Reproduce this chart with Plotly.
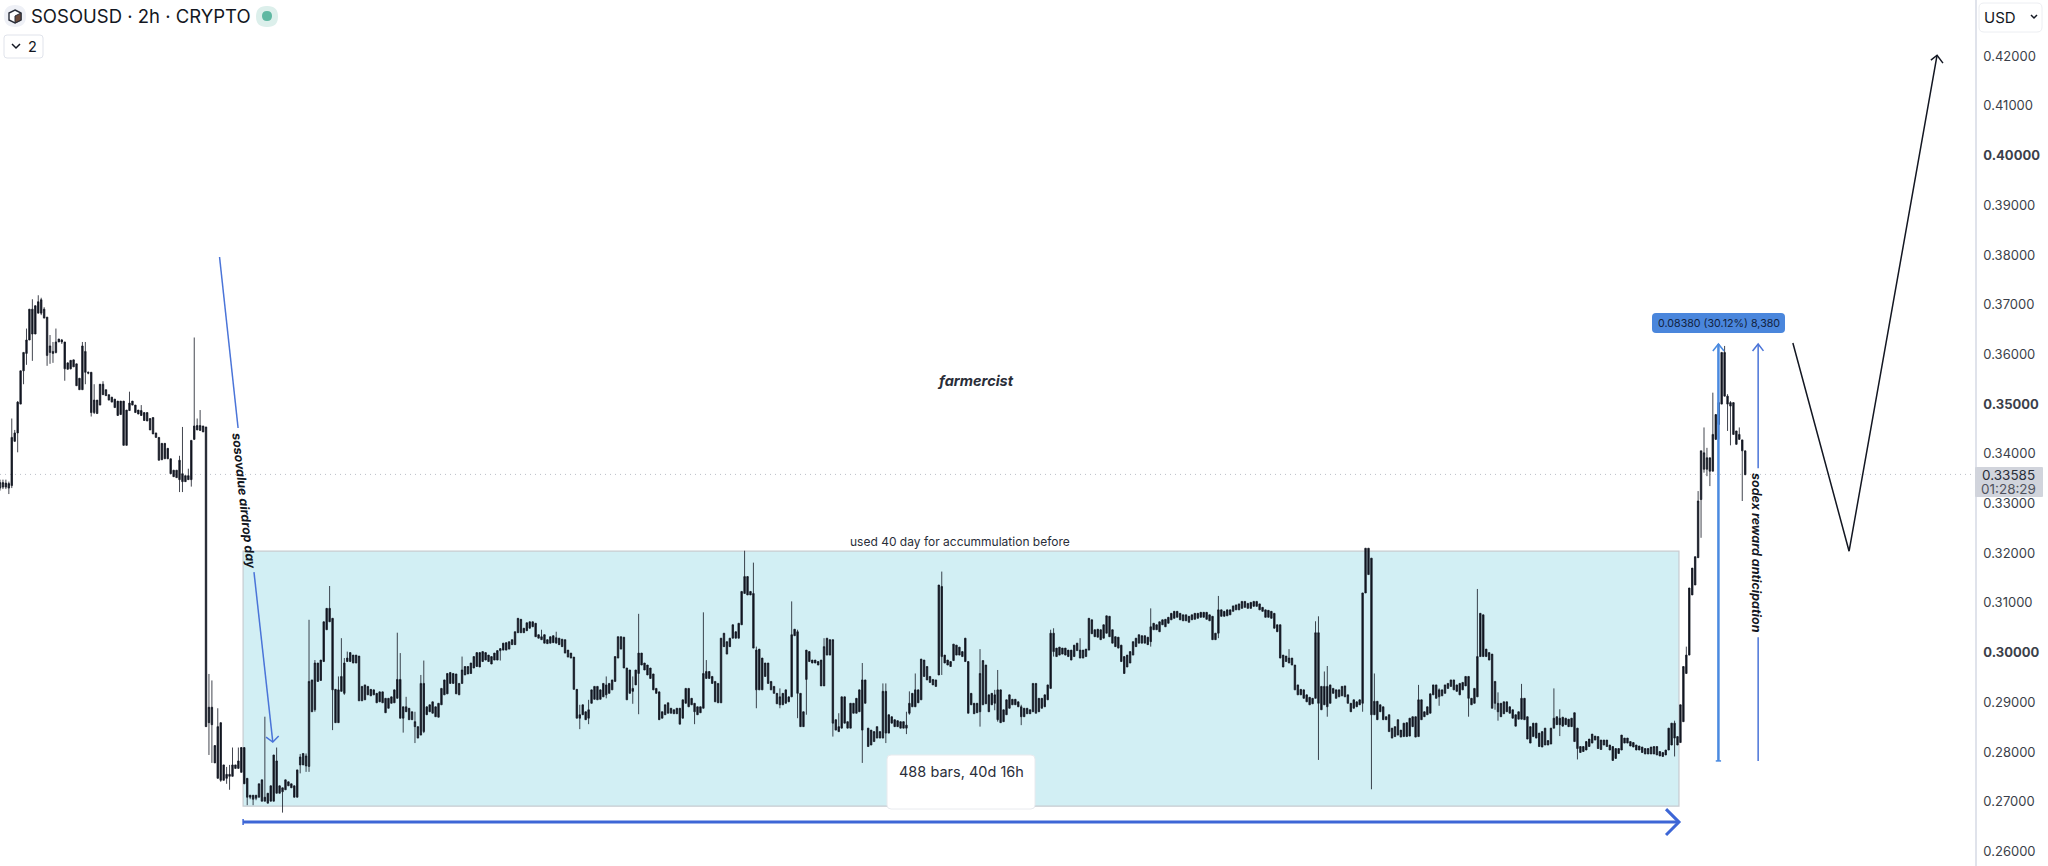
import plotly.graph_objects as go

# Candle data in units of 0.0001 USD: wick high, body top, body bottom, wick low. Blocks of 20 bars.
h0=[3348,3348,3348,3344,3471,3448,3506,3567,3604,3652,3691,3711,3698,3719,3714,3695,3675,3639,3625,3652]
t0=[3342,3342,3341,3340,3433,3442,3504,3567,3604,3629,3691,3691,3698,3706,3710,3691,3675,3617,3606,3625]
b0=[3331,3333,3333,3331,3336,3425,3442,3500,3567,3602,3629,3641,3641,3683,3683,3673,3598,3604,3602,3604]
l0=[3326,3329,3329,3319,3331,3425,3403,3500,3540,3579,3629,3587,3641,3683,3679,3673,3577,3581,3583,3602]

h1=[3631,3631,3625,3583,3588,3589,3581,3552,3625,3625,3565,3564,3540,3508,3540,3546,3529,3519,3514,3510]
t1=[3631,3629,3625,3583,3588,3589,3581,3552,3617,3606,3564,3564,3508,3508,3540,3540,3529,3519,3514,3510]
b1=[3625,3625,3571,3570,3571,3575,3537,3529,3529,3564,3562,3483,3483,3481,3498,3519,3517,3508,3504,3493]
l1=[3625,3621,3547,3570,3570,3575,3537,3529,3529,3540,3560,3475,3480,3481,3498,3519,3517,3508,3504,3493]

h2=[3506,3506,3506,3488,3525,3506,3498,3488,3498,3483,3483,3471,3473,3442,3433,3421,3421,3411,3390,3367]
t2=[3506,3506,3506,3488,3502,3506,3498,3488,3487,3483,3483,3471,3473,3442,3433,3421,3421,3411,3390,3367]
b2=[3477,3479,3417,3417,3487,3498,3483,3480,3477,3467,3466,3448,3440,3433,3387,3388,3390,3390,3360,3354]
l2=[3477,3479,3417,3417,3487,3498,3483,3480,3477,3467,3466,3448,3440,3433,3387,3388,3390,3390,3360,3354]

h3=[3367,3396,3454,3356,3370,3427,3634,3471,3488,3456,3454,2957,2944,2813,2888,2859,2774,2770,2774,2809]
t3=[3367,3387,3360,3356,3356,3427,3456,3457,3457,3456,3454,2890,2890,2813,2851,2859,2774,2755,2755,2774]
b3=[3352,3348,3344,3344,3348,3348,3429,3448,3447,3444,2851,2859,2855,2778,2747,2743,2743,2747,2751,2751]
l3=[3352,3323,3323,3344,3348,3334,3429,3448,3447,3444,2851,2794,2778,2778,2747,2740,2743,2736,2724,2751]

h4=[2774,2809,2809,2809,2747,2713,2713,2713,2736,2744,2871,2717,2732,2794,2809,2732,2728,2744,2740,2736]
t4=[2774,2782,2809,2809,2747,2713,2713,2713,2736,2744,2709,2717,2732,2794,2782,2732,2728,2744,2740,2736]
b4=[2767,2767,2759,2736,2709,2709,2705,2707,2709,2701,2701,2697,2701,2701,2717,2717,2720,2724,2732,2728]
l4=[2767,2767,2759,2736,2693,2705,2693,2703,2709,2701,2701,2697,2701,2701,2717,2717,2678,2724,2732,2728]

h5=[2732,2764,2796,2797,2797,3066,2945,2985,2979,2985,3062,3089,3134,3069,2926,2952,3029,2989,3002,3000]
t5=[2732,2764,2790,2797,2792,2942,2945,2979,2979,2985,3062,3089,3089,3069,2926,2925,2952,2979,2989,3000]
b5=[2709,2709,2774,2774,2772,2771,2881,2885,2942,2944,2982,3046,3062,2925,2859,2859,2922,2918,2982,2982]
l5=[2709,2709,2757,2774,2760,2760,2881,2881,2942,2944,2982,3046,3062,2844,2859,2859,2922,2915,2982,2982]

h6=[2995,2995,2993,2932,2935,2932,2926,2925,2918,2921,2921,2908,2908,2911,2925,3040,2999,2891,2911,2888]
t6=[2995,2995,2993,2932,2935,2932,2926,2925,2918,2921,2921,2908,2908,2911,2925,2946,2946,2891,2891,2888]
b6=[2979,2979,2903,2903,2905,2915,2913,2915,2899,2901,2899,2879,2888,2898,2899,2908,2868,2868,2881,2865]
l6=[2979,2979,2903,2903,2905,2915,2913,2915,2899,2901,2899,2879,2888,2898,2899,2908,2868,2839,2881,2865]

h7=[2881,2881,2851,2955,2984,2891,2895,2901,2891,2898,2928,2945,2958,2960,2958,2957,2938,2992,2972,2972]
t7=[2881,2861,2851,2938,2938,2891,2895,2901,2891,2898,2928,2945,2958,2960,2958,2957,2938,2965,2972,2972]
b7=[2865,2851,2828,2834,2841,2875,2881,2878,2871,2870,2895,2915,2917,2938,2938,2917,2915,2938,2955,2957]
l7=[2865,2818,2828,2834,2838,2875,2881,2878,2871,2870,2895,2915,2917,2938,2938,2917,2915,2938,2955,2957]

h8=[2979,2992,3000,3000,3002,3000,2995,2992,2999,3004,3008,3019,3020,3022,3026,3042,3069,3067,3049,3060]
t8=[2979,2992,3000,3000,3002,3000,2995,2992,2999,3004,3008,3019,3020,3022,3026,3042,3069,3067,3049,3060]
b8=[2958,2969,2972,2971,2982,2985,2982,2977,2985,2985,3004,3005,3005,3007,3016,3016,3040,3040,3040,3044]
l8=[2958,2969,2972,2971,2982,2985,2982,2977,2985,2985,2984,3005,3005,3007,3016,3016,3040,3040,3040,3044]

h9=[3062,3062,3059,3036,3046,3036,3026,3032,3034,3042,3029,3027,3026,3005,2999,2991,2926,2895,2895,2881]
t9=[3062,3062,3059,3036,3032,3036,3026,3032,3034,3030,3029,3027,3026,3005,2999,2991,2926,2875,2895,2881]
b9=[3049,3052,3032,3029,3026,3019,3018,3019,3020,3019,3016,3012,2999,2991,2989,2926,2868,2868,2875,2865]
l9=[3049,3052,3032,3029,3026,3019,3018,3019,3020,3019,3016,3012,2999,2991,2989,2926,2868,2846,2875,2865]

h10=[2905,2925,2932,2932,2925,2938,2952,2938,2945,2992,3032,3032,3031,2969,2965,2952,2965,3078,2999,2979]
t10=[2885,2925,2932,2932,2925,2938,2935,2938,2945,2992,3032,3032,3031,2969,2965,2928,2965,2999,2999,2979]
b10=[2868,2898,2906,2905,2906,2911,2915,2918,2925,2942,2989,3007,2969,2905,2918,2922,2935,2958,2975,2965]
l10=[2856,2898,2906,2905,2906,2911,2908,2918,2925,2942,2989,3007,2969,2905,2918,2897,2935,2876,2975,2965]

h11=[2975,2969,2957,2928,2921,2881,2895,2899,2888,2885,2888,2888,2905,2928,2928,2908,2898,2891,2891,3081]
t11=[2975,2969,2957,2928,2921,2881,2895,2899,2888,2885,2888,2888,2905,2928,2928,2908,2898,2891,2891,2958]
b11=[2955,2948,2925,2918,2865,2868,2875,2878,2878,2877,2877,2856,2868,2898,2891,2895,2881,2875,2879,2888]
l11=[2955,2948,2925,2918,2865,2868,2875,2878,2878,2877,2877,2856,2868,2898,2891,2895,2856,2875,2879,2888]

h12=[2985,2962,2952,2942,2938,3029,3039,3022,3029,3056,3042,3059,3123,3205,3153,3123,3181,3012,3007,2989]
t12=[2962,2962,2952,2942,2938,3029,3039,3022,3029,3056,3042,3059,3123,3153,3153,3123,3119,3005,3007,2989]
b12=[2948,2948,2938,2901,2899,2899,3012,2997,3012,3029,3029,3029,3056,3119,3116,3116,3009,2925,2925,2925]
l12=[2948,2948,2938,2901,2899,2899,3012,2997,3012,3029,3029,3029,3056,3119,3116,3116,3009,2888,2925,2925]

h13=[2979,2979,2942,2932,2918,2928,2918,2925,2911,3103,3047,3046,2918,2881,3005,3002,2985,2985,2982,2985]
t13=[2979,2979,2942,2932,2918,2911,2918,2925,2911,3036,3047,3042,2918,2881,3005,3002,2985,2985,2982,2985]
b13=[2952,2938,2925,2918,2897,2895,2895,2898,2901,2911,3034,2918,2851,2851,2946,2982,2979,2979,2975,2933]
l13=[2952,2938,2925,2918,2897,2888,2895,2898,2901,2911,3034,2868,2851,2851,2875,2982,2979,2979,2975,2933]

h14=[3029,3029,3026,3026,2865,2878,2911,2911,2861,2898,2898,2908,2925,2979,2945,2848,2844,2841,2851,2841]
t14=[3012,3029,3026,3026,2865,2851,2911,2911,2861,2898,2898,2908,2925,2945,2945,2848,2844,2841,2851,2841]
b14=[2933,2995,2995,2858,2844,2841,2848,2858,2848,2848,2878,2878,2881,2844,2898,2811,2814,2821,2828,2828]
l14=[2933,2995,2995,2831,2844,2841,2848,2858,2848,2848,2878,2878,2881,2778,2898,2811,2814,2821,2828,2828]

h15=[2938,2938,2875,2871,2865,2863,2861,2861,2881,2922,2918,2958,2925,2987,2985,2972,2952,2946,2945,3136]
t15=[2922,2922,2875,2871,2865,2863,2861,2861,2854,2898,2918,2925,2925,2987,2985,2972,2952,2946,2945,3136]
b15=[2828,2838,2838,2858,2851,2851,2848,2848,2848,2878,2891,2891,2899,2905,2952,2945,2940,2935,2932,2955]
l15=[2828,2818,2838,2858,2851,2851,2848,2848,2836,2875,2891,2891,2899,2905,2952,2945,2940,2935,2932,2955]

h16=[3163,2995,2985,2982,3017,3015,3011,3002,3029,2982,2918,2898,2898,3007,2984,2975,2915,2918,2925,2965]
t16=[3133,2995,2985,2982,3017,3015,3011,3002,3029,2982,2918,2898,2898,2958,2984,2975,2915,2918,2915,2925]
b16=[2992,2979,2975,2972,2984,2995,2995,2992,2982,2878,2895,2877,2879,2881,2895,2897,2881,2895,2898,2865]
l16=[2955,2979,2975,2972,2984,2995,2995,2992,2982,2878,2895,2877,2879,2851,2895,2897,2881,2895,2884,2861]

h17=[2925,2885,2905,2915,2906,2906,2901,2895,2888,2888,2885,2938,2938,2908,2908,2915,2935,3046,3049,3009]
t17=[2925,2885,2905,2915,2906,2906,2901,2891,2888,2888,2885,2938,2938,2908,2908,2915,2935,3039,3039,3009]
b17=[2859,2861,2875,2888,2895,2895,2891,2871,2871,2877,2877,2881,2878,2881,2888,2891,2905,2928,3002,2992]
l17=[2859,2861,2875,2888,2895,2895,2891,2854,2871,2877,2877,2881,2878,2881,2888,2891,2905,2928,2992,2992]

h18=[3011,3009,3009,3005,3005,3015,3019,3029,3005,3007,3069,3066,3046,3047,3046,3056,3074,3073,3046,3032]
t18=[3011,3009,3009,3005,3005,3015,3019,3005,3005,3007,3069,3066,3046,3047,3046,3056,3074,3073,3046,3032]
b18=[2995,2997,2995,2992,2985,2992,3004,2989,2989,2992,3005,3038,3032,3031,3026,3029,3039,3032,3019,3012]
l18=[2995,2997,2995,2992,2985,2992,3004,2989,2989,2992,3005,3038,3032,3031,3026,3029,3039,3032,3019,3012]

h19=[3031,3015,2992,2995,3002,3022,3029,3036,3034,3034,3031,3089,3059,3056,3062,3066,3067,3071,3079,3083]
t19=[3031,3015,2992,2995,3002,3022,3029,3036,3034,3034,3031,3052,3059,3056,3062,3066,3067,3071,3079,3083]
b19=[3009,2982,2958,2971,2979,2995,3012,3019,3019,3019,3016,3022,3046,3046,3042,3056,3052,3059,3066,3069]
l19=[3009,2982,2958,2971,2979,2995,3012,3019,3019,3019,3016,3012,3046,3046,3042,3056,3052,3059,3066,3069]

h20=[3083,3079,3076,3076,3073,3076,3079,3079,3081,3081,3081,3076,3073,3039,3114,3086,3083,3086,3086,3094]
t20=[3083,3079,3076,3076,3073,3076,3079,3079,3081,3081,3081,3076,3073,3039,3086,3086,3083,3086,3086,3094]
b20=[3071,3066,3064,3064,3061,3066,3067,3069,3071,3071,3067,3064,3026,3026,3039,3073,3073,3074,3076,3083]
l20=[3071,3066,3064,3064,3061,3066,3067,3069,3071,3071,3067,3064,3026,3026,3029,3073,3073,3074,3076,3083]

h21=[3096,3098,3103,3103,3099,3101,3103,3103,3098,3091,3086,3085,3083,3079,3056,3056,2995,2993,3007,2989]
t21=[3096,3098,3103,3103,3099,3101,3103,3103,3098,3091,3086,3085,3083,3079,3056,3056,2995,2993,2989,2989]
b21=[3086,3086,3089,3091,3089,3089,3093,3093,3086,3083,3071,3071,3069,3049,3042,2989,2971,2982,2979,2975]
l21=[3086,3086,3089,3091,3089,3089,3093,3093,3086,3083,3071,3071,3069,3049,3042,2989,2971,2982,2979,2975]

h22=[2975,2935,2926,2925,2915,2910,2908,3063,3073,2932,2962,2973,2935,2928,2925,2925,2932,2933,2915,2898]
t22=[2975,2935,2926,2925,2915,2910,2908,3040,3040,2932,2932,2932,2935,2928,2925,2925,2932,2933,2915,2898]
b22=[2925,2915,2915,2908,2901,2895,2897,2908,2898,2885,2895,2891,2898,2918,2908,2911,2913,2911,2898,2881]
l22=[2925,2915,2915,2908,2901,2895,2897,2908,2784,2885,2895,2871,2898,2918,2908,2911,2913,2911,2898,2881]

h23=[2905,2901,2905,3120,3210,3210,3190,2958,2902,2895,2891,2871,2875,2848,2851,2865,2844,2858,2859,2868]
t23=[2905,2901,2905,3120,3210,3210,3190,2902,2902,2895,2891,2871,2875,2848,2851,2865,2844,2858,2859,2868]
b23=[2888,2891,2895,2898,3120,3157,2875,2875,2865,2881,2865,2865,2841,2828,2831,2834,2830,2831,2831,2832]
l23=[2888,2891,2895,2881,3120,3157,2725,2875,2865,2881,2865,2865,2841,2828,2831,2834,2830,2831,2831,2832]

h24=[2871,2871,2935,2905,2881,2891,2917,2935,2935,2928,2925,2935,2938,2945,2945,2935,2938,2940,2952,2952]
t24=[2871,2871,2905,2905,2881,2891,2917,2935,2935,2925,2925,2935,2938,2945,2945,2935,2938,2940,2952,2952]
b24=[2851,2830,2831,2865,2871,2875,2878,2915,2908,2911,2913,2918,2928,2932,2925,2922,2915,2925,2933,2908]
l24=[2851,2830,2831,2865,2871,2875,2878,2915,2908,2893,2913,2918,2928,2932,2925,2922,2915,2925,2933,2871]

h25=[2908,2928,3128,3079,3076,3007,3000,2997,2942,2920,2898,2901,2901,2891,2885,2875,2881,2937,2908,2871]
t25=[2908,2928,2992,3079,3076,3007,3000,2997,2942,2898,2898,2901,2901,2891,2885,2875,2881,2908,2908,2871]
b25=[2895,2898,2911,2992,2992,2992,2985,2888,2898,2881,2871,2877,2881,2878,2868,2852,2866,2866,2865,2826]
l25=[2895,2898,2911,2992,2992,2992,2985,2888,2885,2863,2871,2877,2881,2878,2868,2852,2866,2866,2865,2826]

h26=[2851,2858,2858,2838,2841,2848,2823,2848,2928,2871,2886,2870,2868,2866,2868,2879,2848,2811,2811,2821]
t26=[2851,2858,2858,2838,2841,2848,2823,2848,2868,2871,2868,2870,2868,2866,2868,2879,2848,2811,2811,2821]
b26=[2818,2831,2828,2811,2810,2814,2814,2816,2848,2855,2855,2852,2855,2851,2851,2821,2807,2799,2801,2804]
l26=[2818,2831,2828,2811,2810,2814,2814,2816,2848,2855,2832,2852,2855,2851,2851,2821,2785,2799,2801,2804]

h27=[2826,2836,2832,2831,2824,2824,2824,2814,2811,2807,2807,2834,2828,2828,2821,2819,2814,2812,2810,2807]
t27=[2826,2836,2832,2831,2824,2824,2824,2814,2811,2807,2807,2834,2828,2828,2821,2819,2814,2812,2810,2807]
b27=[2811,2818,2824,2807,2805,2814,2811,2804,2783,2787,2797,2804,2818,2818,2812,2810,2804,2804,2799,2796]
l27=[2811,2818,2824,2807,2805,2814,2811,2804,2783,2787,2797,2804,2818,2818,2812,2810,2804,2804,2799,2796]

h28=[2807,2810,2811,2811,2801,2799,2804,2848,2858,2863,2831,2895,2972,3012,3130,3170,3193,3325,3406,3453]
t28=[2807,2810,2811,2811,2801,2799,2804,2848,2858,2858,2831,2895,2972,2995,3130,3170,3193,3305,3406,3402]
b28=[2796,2796,2796,2794,2792,2791,2794,2804,2814,2828,2814,2819,2861,2958,2995,3116,3136,3191,3308,3369]
l28=[2796,2796,2796,2794,2792,2791,2794,2804,2814,2791,2814,2819,2861,2958,2995,3116,3136,3191,3231,3362]

h29=[3412,3392,3523,3479,3503,3604,3617,3520,3506,3503,3446,3453,3428,3406]
t29=[3392,3392,3439,3479,3503,3604,3604,3516,3503,3503,3446,3439,3428,3406]
b29=[3369,3365,3365,3429,3459,3500,3516,3500,3496,3439,3419,3429,3406,3358]
l29=[3355,3335,3365,3429,3429,3500,3516,3446,3417,3439,3419,3429,3305,3357]

price_ticks = [0.26,0.27,0.28,0.29,0.30,0.31,0.32,0.33,0.34,0.35,0.36,0.37,0.38,0.39,0.40,0.41,0.42]
bold_ticks = [0.30,0.35,0.40]
last_price = 0.33585
box_top, box_bottom, box_start, box_end = 0.3204, 0.2691, 82.6, 570.5

blocks = [(h0,t0,b0,l0),(h1,t1,b1,l1),(h2,t2,b2,l2),(h3,t3,b3,l3),(h4,t4,b4,l4),(h5,t5,b5,l5),
          (h6,t6,b6,l6),(h7,t7,b7,l7),(h8,t8,b8,l8),(h9,t9,b9,l9),(h10,t10,b10,l10),(h11,t11,b11,l11),
          (h12,t12,b12,l12),(h13,t13,b13,l13),(h14,t14,b14,l14),(h15,t15,b15,l15),(h16,t16,b16,l16),
          (h17,t17,b17,l17),(h18,t18,b18,l18),(h19,t19,b19,l19),(h20,t20,b20,l20),(h21,t21,b21,l21),
          (h22,t22,b22,l22),(h23,t23,b23,l23),(h24,t24,b24,l24),(h25,t25,b25,l25),(h26,t26,b26,l26),
          (h27,t27,b27,l27),(h28,t28,b28,l28),(h29,t29,b29,l29)]
high, top, bottom, low = [], [], [], []
for n, (a, b_, c, d) in enumerate(blocks):
    assert len(a) == len(b_) == len(c) == len(d), (n, len(a), len(b_), len(c), len(d))
    high += [v / 10000 for v in a]
    top += [v / 10000 for v in b_]
    bottom += [v / 10000 for v in c]
    low += [v / 10000 for v in d]
bars = list(range(len(high)))

W, H, PLOT_W, BAR_PX = 2048, 866, 1975, 2.943
Y_TOP, Y_BOT = 0.43131, 0.25706
INK, FONT = "#131722", "Inter, Roboto, sans-serif"
TEXT = "#2a2e39"

def px(x): return x / PLOT_W
def py(y): return 1 - y / H

fig = go.Figure()
fig.add_trace(go.Candlestick(x=bars, open=bottom, close=top, high=high, low=low,
    increasing=dict(line=dict(color=INK, width=0.8), fillcolor=INK),
    decreasing=dict(line=dict(color=INK, width=0.8), fillcolor=INK),
    whiskerwidth=0, hoverinfo="skip", showlegend=False))

def line(xs, ys, color, width):
    fig.add_trace(go.Scatter(x=xs, y=ys, mode="lines", line=dict(color=color, width=width),
                             hoverinfo="skip", showlegend=False))

BLUE, BLUE2 = "#4a74d8", "#4a8ae0"
# airdrop arrow
line([74.6, 80.9], [0.3796, 0.3452], BLUE, 1.5)
line([86.3, 92.7], [0.3162, 0.2820], BLUE, 1.5)
line([90.4, 92.7, 94.7], [0.2830, 0.2820, 0.2832], BLUE, 1.5)
# date range arrow
line([82.6, 570.5], [0.2659, 0.2659], "#3d66d6", 3)
line([566.1, 570.5, 566.1], [0.2685, 0.2659, 0.2633], "#3d66d6", 3)
line([82.6, 82.6], [0.2653, 0.2665], "#3d66d6", 1.5)
# price range arrow
line([583.9, 583.9], [0.2782, 0.3621], BLUE2, 2.5)
line([582.0, 583.9, 585.8], [0.3607, 0.3621, 0.3607], BLUE2, 1.5)
line([583.0, 584.8], [0.2782, 0.2782], BLUE2, 1.5)
# sodex arrow
line([597.4, 597.4], [0.2782, 0.3031], BLUE, 1.5)
line([597.4, 597.4], [0.3371, 0.3621], BLUE, 1.5)
line([595.5, 597.4, 599.2], [0.3607, 0.3621, 0.3607], BLUE, 1.5)
# projected path
line([609.2, 628.3, 658.2], [0.3623, 0.3204, 0.4202], "#131722", 1.5)
line([656.1, 658.2, 660.2], [0.4192, 0.4202, 0.4186], "#131722", 1.5)

def rrect(x0, y0, x1, y1, r):
    X = px; Y = py
    return (f"M{X(x0+r)},{Y(y0)} L{X(x1-r)},{Y(y0)} Q{X(x1)},{Y(y0)} {X(x1)},{Y(y0+r)} "
            f"L{X(x1)},{Y(y1-r)} Q{X(x1)},{Y(y1)} {X(x1-r)},{Y(y1)} L{X(x0+r)},{Y(y1)} "
            f"Q{X(x0)},{Y(y1)} {X(x0)},{Y(y1-r)} L{X(x0)},{Y(y0+r)} Q{X(x0)},{Y(y0)} {X(x0+r)},{Y(y0)} Z")

def poly(points, close=False):
    s = "M" + " L".join(f"{px(x)},{py(y)}" for x, y in points)
    return s + (" Z" if close else "")

shapes = [
    dict(type="rect", xref="x", yref="y", x0=box_start, x1=box_end, y0=box_bottom, y1=box_top,
         fillcolor="#d2eff4", line=dict(color="#c6cbd0", width=1.2), layer="below"),
    dict(type="line", xref="paper", yref="y", x0=0, x1=1, y0=last_price, y1=last_price,
         line=dict(color="#bcc0c8", width=1, dash="1px,4px"), layer="below"),
]
def ui(path, fill="rgba(0,0,0,0)", color="rgba(0,0,0,0)", width=1):
    shapes.append(dict(type="path", xref="paper", yref="paper", path=path, fillcolor=fill,
                       line=dict(color=color, width=width), layer="above"))

ui(rrect(887, 755, 1035, 809, 4), "#ffffff", "#e8eaee")
ui(rrect(1652, 313, 1785, 333, 4), "#4a86dc")
ui(rrect(1975, 467, 2043, 497, 1), "#d1d4dc")
ui(rrect(1979, 3, 2042, 32, 5), "#ffffff", "#eceef2")
ui(rrect(4, 35, 43, 58, 3), "#ffffff", "#e0e3eb")
ui(poly([(12, 44), (16, 48), (20, 44)]), color=INK, width=1.5)
ui(poly([(2031, 15), (2034, 18), (2037, 15)]), color=INK, width=1.5)
# symbol icon and status dot
ui(rrect(4, 5, 26, 27, 11), "#eef0f6")
ui(poly([(15, 10), (21, 13), (21, 20), (15, 23), (9, 20), (9, 13)], True), "#ffffff", "#2a2e39", 1.4)
ui(poly([(15, 16), (21, 13), (21, 20), (15, 23)], True), "#6b4a3a", "#2a2e39", 1)
ui(rrect(256, 6, 278, 27, 10.5), "#dcefeb")
ui(rrect(262, 11, 272, 21, 5), "#5fb8a2")

def note(x, y, text, size, color=TEXT, anchor="center", angle=0):
    return dict(xref="paper", yref="paper", x=px(x), y=py(y), text=text, showarrow=False,
                xanchor=anchor, yanchor="middle", textangle=angle,
                font=dict(family=FONT, size=size, color=color))

annotations = [
    note(29, 16, "SOSOUSD · 2h · CRYPTO", 18.5, INK, "left"),
    note(32, 46.5, "2", 14.5, INK),
    note(1982, 17, "USD", 15, INK, "left"),
    note(960, 541, "used 40 day for accummulation before", 12, TEXT),
    note(961, 771, "488 bars, 40d 16h", 14.5, TEXT),
    note(1718.5, 323, "0.08380 (30.12%) 8,380", 10.7, "#12233f"),
    note(975, 380, "<b><i>farmercist</i></b>", 14.5, "#2a2e39"),
    note(244.5, 501, "<b><i>sosovalue airdrop day</i></b>", 12.5, INK, angle=83.8),
    note(1757, 553, "<b><i>sodex reward anticipation</i></b>", 12.5, INK, angle=90),
    note(2009, 475, "0.33585", 13.5, "#2a2e39"),
    note(2009, 489, "01:28:29", 13.5, "#50535e"),
]

ticktext = [f"<b>{v:.5f}</b>" if v in bold_ticks else f"{v:.5f}" for v in price_ticks]

fig.update_layout(
    width=W, height=H, margin=dict(l=0, r=W - PLOT_W, t=0, b=0), autosize=False,
    plot_bgcolor="#ffffff", paper_bgcolor="#ffffff", showlegend=False,
    xaxis=dict(range=[0, PLOT_W / BAR_PX], visible=False, rangeslider=dict(visible=False), fixedrange=True),
    yaxis=dict(range=[Y_BOT, Y_TOP], side="right", showgrid=False, zeroline=False, showline=True,
               linecolor="#e0e3eb", linewidth=1.5, ticks="", tickvals=price_ticks, ticktext=ticktext,
               ticklabelstandoff=4, tickfont=dict(family=FONT, size=13, color="#3b3f4a"), fixedrange=True),
    shapes=shapes, annotations=annotations,
)
fig.write_html("out.html", config=dict(displayModeBar=False),
               post_script="document.body.style.margin='0';")
